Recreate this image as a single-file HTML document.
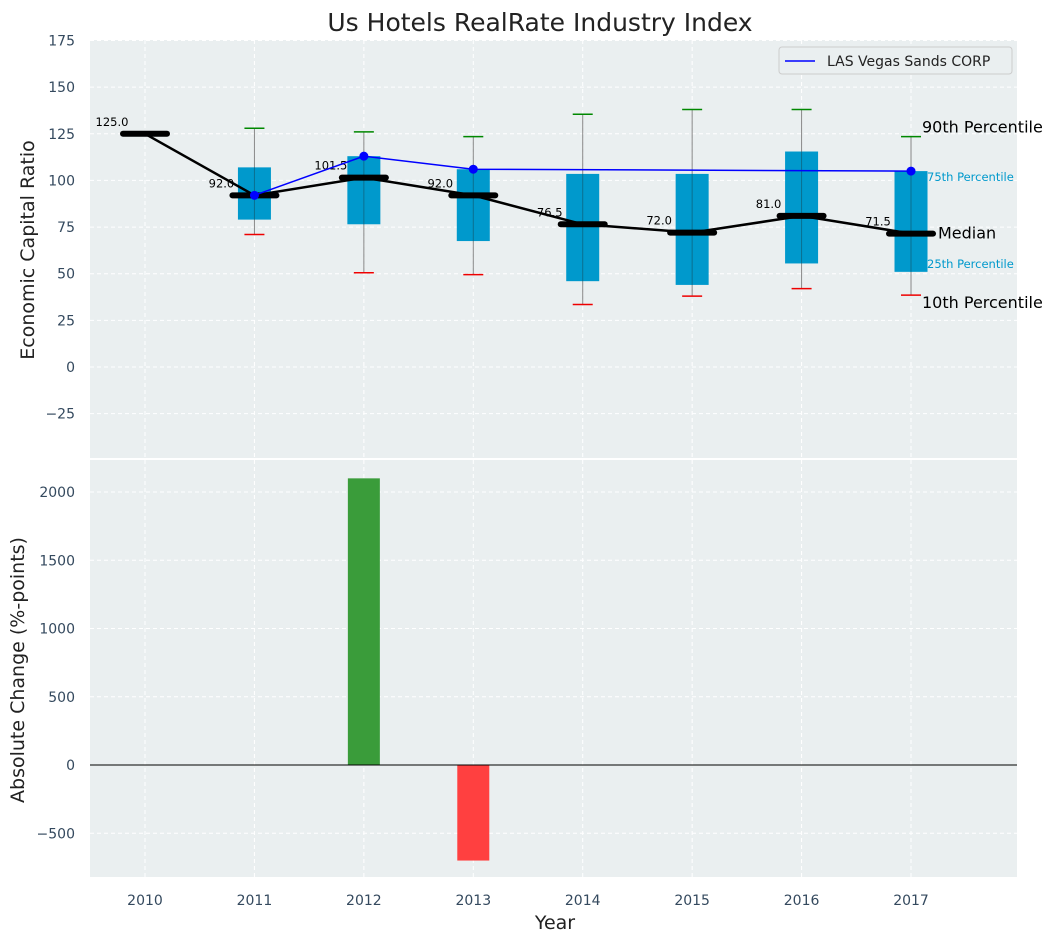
<!DOCTYPE html>
<html><head><meta charset="utf-8"><style>
body{margin:0;background:#fff;font-family:"Liberation Sans","DejaVu Sans",sans-serif;}
svg text{font-family:"DejaVu Sans","Liberation Sans",sans-serif;}
</style></head><body>
<svg id="c" width="1057" height="942" xmlns="http://www.w3.org/2000/svg"></svg>
<script>
const years=[2010,2011,2012,2013,2014,2015,2016,2017];
const p10=[null,71,50.5,49.5,33.5,38,42,38.5];
const p25=[null,79,76.5,67.5,46,44,55.5,51];
const median=[125,92,101.5,92,76.5,72,81,71.5];
const p75=[null,107,113,106,103.5,103.5,115.5,105];
const p90=[null,128,126,123.5,135.5,138,138,123.5];
const companyYears=[2011,2012,2013,2017];
const companyVals=[92,113,106,105];
const changeYears=[2012,2013];
const changeVals=[2100,-700];
const topTicks=[-25,0,25,50,75,100,125,150,175];
const botTicks=[-500,0,500,1000,1500,2000];

const NS="http://www.w3.org/2000/svg";
const svg=document.getElementById('c');
function el(t,a,p){const e=document.createElementNS(NS,t);for(const k in a)e.setAttribute(k,a[k]);(p||svg).appendChild(e);return e;}
const X0=90,X1=1017;
const x=v=>145+(v-2010)*109.43;
const T0=40,T1=458;const yt=v=>367-v*1.8657;
const B0=460,B1=877;const yb=v=>765-v*0.1365;

el('rect',{x:X0,y:T0,width:X1-X0,height:T1-T0,fill:'#eaeff0',});
el('rect',{x:X0,y:B0,width:X1-X0,height:B1-B0,fill:'#eaeff0',});
years.forEach(yr=>{[[T0,T1],[B0,B1]].forEach(r=>{el('line',{x1:x(yr),x2:x(yr),y1:r[0],y2:r[1],stroke:'#fff','stroke-dasharray':'4,3','stroke-width':1});});});
topTicks.forEach(v=>{el('line',{x1:X0,x2:X1,y1:yt(v),y2:yt(v),stroke:'#fff','stroke-dasharray':'4,3'});
 const t=el('text',{x:75,y:yt(v)+5,'text-anchor':'end','font-size':14,fill:'#34495e'});t.textContent=v<0?'\u2212'+(-v):v;
 });
botTicks.forEach(v=>{el('line',{x1:X0,x2:X1,y1:yb(v),y2:yb(v),stroke:'#fff','stroke-dasharray':'4,3'});
 const t=el('text',{x:75,y:yb(v)+5,'text-anchor':'end','font-size':14,fill:'#34495e'});t.textContent=v<0?'\u2212'+(-v):v;
 });
years.forEach(yr=>{const t=el('text',{x:x(yr),y:905,'text-anchor':'middle','font-size':14,fill:'#34495e'});t.textContent=yr;
 });
years.forEach((yr,i)=>{
 if(p10[i]!=null){
  el('line',{x1:x(yr),x2:x(yr),y1:yt(p10[i]),y2:yt(p90[i]),stroke:'#888','stroke-width':1});
  const b=el('rect',{x:x(yr)-16.5,y:yt(p75[i]),width:33,height:yt(p25[i])-yt(p75[i]),fill:'#0099cc'});
  
  el('line',{x1:x(yr),x2:x(yr),y1:yt(p25[i]),y2:yt(p75[i]),stroke:'#0a6f90','stroke-width':1});
  el('line',{x1:x(yr)-10,x2:x(yr)+10,y1:yt(p10[i]),y2:yt(p10[i]),stroke:'#e00','stroke-width':1.5});
  el('line',{x1:x(yr)-10,x2:x(yr)+10,y1:yt(p90[i]),y2:yt(p90[i]),stroke:'#080','stroke-width':1.5});
 }
});
el('polyline',{points:years.map((yr,i)=>x(yr)+','+yt(median[i])).join(' '),fill:'none',stroke:'#000','stroke-width':2.5,});
years.forEach((yr,i)=>{
 const m=el('line',{x1:x(yr)-22,x2:x(yr)+22,y1:yt(median[i]),y2:yt(median[i]),stroke:'#000','stroke-width':6,'stroke-linecap':'round'});
 
 const t=el('text',{x:x(yr)-33,y:yt(median[i])-8,'text-anchor':'middle','font-size':11.5,fill:'#000'});t.textContent=median[i].toFixed(1);
 
});
el('polyline',{points:companyYears.map((yr,i)=>x(yr)+','+yt(companyVals[i])).join(' '),fill:'none',stroke:'#00f','stroke-width':1.5,});
companyYears.forEach((yr,i)=>{const c=el('circle',{cx:x(yr),cy:yt(companyVals[i]),r:4.5,fill:'#00f'});});
const L=years.length-1,lx=x(years[L]);
[[p90[L],'90th Percentile',11,16,'#000',-4],[p75[L],'75th Percentile',16,11.5,'#0099cc',10],[median[L],'Median',27,16,'#000',5],[p25[L],'25th Percentile',16,11.5,'#0099cc',-4],[p10[L],'10th Percentile',11,16,'#000',13]].forEach(a=>{
 const t=el('text',{x:lx+a[2],y:yt(a[0])+a[5],'font-size':a[3],fill:a[4]});t.textContent=a[1];
 });
changeYears.forEach((yr,i)=>{const v=changeVals[i];const b=el('rect',{x:x(yr)-16,y:Math.min(yb(v),yb(0)),width:32,height:Math.abs(yb(v)-yb(0)),fill:v>=0?'#3a9c3a':'#ff4040'});
 });
el('line',{x1:X0,x2:X1,y1:yb(0),y2:yb(0),stroke:'#000','stroke-width':1});
el('rect',{x:779,y:47,width:233,height:27,rx:3,fill:'#eaeff0',stroke:'#ccc',});
el('line',{x1:785,x2:815,y1:61,y2:61,stroke:'#00f','stroke-width':1.5});
let t=el('text',{x:827,y:66,'font-size':14,fill:'#222',});t.textContent='LAS Vegas Sands CORP';
t=el('text',{x:540,y:31,'text-anchor':'middle','font-size':25,fill:'#222',});t.textContent='Us Hotels RealRate Industry Index';
t=el('text',{x:34,y:250,'text-anchor':'middle','font-size':19,fill:'#222',transform:'rotate(-90 34 250)',});t.textContent='Economic Capital Ratio';
t=el('text',{x:24,y:670,'text-anchor':'middle','font-size':19,fill:'#222',transform:'rotate(-90 24 670)',});t.textContent='Absolute Change (%-points)';
t=el('text',{x:555,y:929,'text-anchor':'middle','font-size':19,fill:'#222',});t.textContent='Year';
</script></body></html>
